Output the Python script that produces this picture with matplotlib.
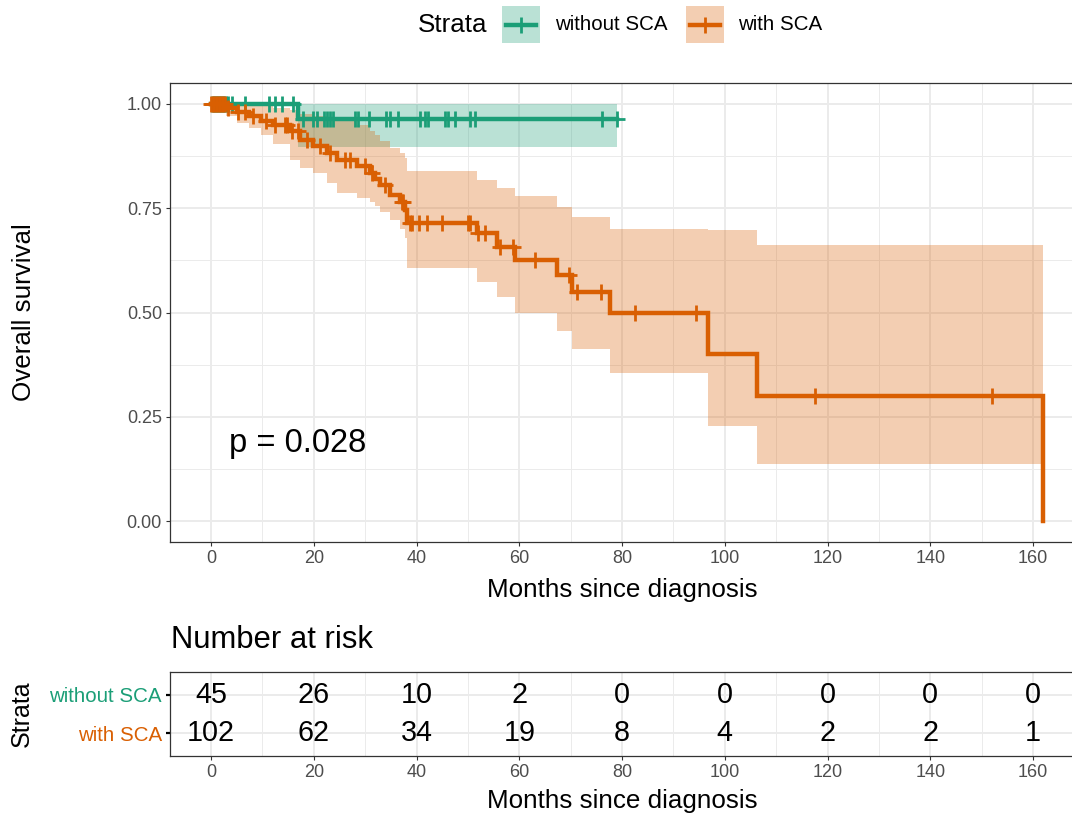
import numpy as np
import matplotlib
matplotlib.use("Agg")
import matplotlib.pyplot as plt
from matplotlib.patches import Rectangle
from matplotlib.lines import Line2D

plt.rcParams['font.family'] = ['Liberation Sans', 'DejaVu Sans']

# ---------------- data ----------------
strata = ["without SCA", "with SCA"]
colors = ["#1B9E77", "#D95F02"]

# stratum 1: without SCA (step function)
wo_time = [0.0, 16.9, 79.0]
wo_surv = [1.0, 0.964, 0.964]
wo_lower = [1.0, 0.897, 0.897]
wo_upper = [1.0, 1.0, 1.0]
wo_censor = [0.2, 0.5, 0.8, 1.1, 1.4, 1.7, 2.0, 2.3, 2.6, 3.0, 3.4, 4.0, 6.6,
             11.3, 12.5, 13.9, 16.0, 18.0, 19.9, 20.6, 21.9, 22.5, 23.2, 23.8,
             28.0, 28.7, 30.8, 34.1, 34.8, 36.4, 40.7, 41.6, 42.3, 45.5, 46.2,
             47.5, 50.4, 51.4, 76.1, 79.0]

# stratum 2: with SCA (step function)
w_time = [0.0, 3.0, 5.0, 7.4, 9.7, 12.0, 15.4, 17.3, 19.9, 22.6, 24.5, 28.4,
          30.9, 31.9, 32.9, 34.8, 36.8, 37.8, 38.2, 51.7, 55.6, 59.2, 67.3,
          70.2, 77.7, 96.8, 106.3, 162.0]
w_surv = [1.0, 0.990, 0.980, 0.970, 0.960, 0.950, 0.935, 0.914, 0.898, 0.882,
          0.865, 0.851, 0.834, 0.820, 0.806, 0.782, 0.766, 0.745, 0.714, 0.690,
          0.658, 0.626, 0.590, 0.550, 0.500, 0.400, 0.300, 0.0]
w_upper = [1.0, 1.0, 1.0, 0.999, 0.996, 0.990, 0.985, 0.975, 0.970, 0.965,
           0.960, 0.950, 0.934, 0.925, 0.910, 0.895, 0.882, 0.870, 0.838,
           0.818, 0.798, 0.778, 0.754, 0.728, 0.700, 0.697, 0.662, 0.662]
w_lower = [1.0, 0.971, 0.955, 0.943, 0.926, 0.904, 0.866, 0.847, 0.835, 0.810,
           0.787, 0.775, 0.766, 0.755, 0.740, 0.722, 0.700, 0.678, 0.606,
           0.574, 0.538, 0.500, 0.456, 0.412, 0.354, 0.229, 0.136, 0.136]
w_censor = [0.0, 0.3, 0.6, 0.9, 1.2, 1.5, 1.8, 2.1, 2.4, 2.7, 3.4, 5.3, 6.6,
            8.2, 10.8, 12.5, 14.4, 14.7, 15.7, 17.0, 18.6, 21.2, 23.2, 26.1,
            27.1, 30.0, 31.3, 33.9, 37.1, 37.4, 38.7, 39.1, 40.4, 42.0, 44.9,
            50.0, 50.4, 51.9, 53.3, 56.3, 58.8, 63.1, 69.6, 71.2, 76.0, 82.5,
            94.5, 117.6, 152.0]

p_value_text = "p = 0.028"

risk_times = [0, 20, 40, 60, 80, 100, 120, 140, 160]
risk_without = [45, 26, 10, 2, 0, 0, 0, 0, 0]
risk_with = [102, 62, 34, 19, 8, 4, 2, 2, 1]

x_ticks = [0, 20, 40, 60, 80, 100, 120, 140, 160]
y_ticks = [0.0, 0.25, 0.50, 0.75, 1.00]

# ---------------- figure ----------------
W, H = 1072, 816
fig = plt.figure(figsize=(W / 100, H / 100), dpi=100)


def fx(px):
    return px / W


def fy(py):
    return 1 - py / H


GRID_MAJ = "#EBEBEB"
TXT_GRAY = "#4D4D4D"
BORDER = "#333333"
LW = 3.2
MS = 12
MEW = 2.0

L, R = 169.9, 1074.1
ax = fig.add_axes([fx(L), fy(542), fx(R) - fx(L), fy(83) - fy(542)])
ax.set_xlim(-8, 168)
ax.set_ylim(-0.05, 1.05)

# grid
ax.set_axisbelow(True)
ax.set_xticks(x_ticks)
ax.set_xticks(np.arange(10, 170, 20), minor=True)
ax.set_yticks(y_ticks)
ax.set_yticks([0.125, 0.375, 0.625, 0.875], minor=True)
ax.grid(which="major", color=GRID_MAJ, lw=1.4)
ax.grid(which="minor", color=GRID_MAJ, lw=0.7)
ax.set_yticklabels([f"{v:.2f}" for v in y_ticks])
ax.tick_params(which="minor", length=0)
ax.tick_params(which="major", length=3.2, width=0.8, color=BORDER,
               labelcolor=TXT_GRAY, labelsize=13, pad=2.5)
for s in ax.spines.values():
    s.set_color(BORDER)
    s.set_linewidth(0.9)


def step_val(times, vals, t):
    i = np.searchsorted(times, t, side="right") - 1
    return np.asarray(vals)[i]


series = [
    (wo_time, wo_surv, wo_lower, wo_upper, wo_censor, colors[0]),
    (w_time, w_surv, w_lower, w_upper, w_censor, colors[1]),
]
for t, s, lo, up, cen, c in series:
    ax.fill_between(t, lo, up, step="post", color=c, alpha=0.3, lw=0)
for t, s, lo, up, cen, c in series:
    ax.step(t, s, where="post", color=c, lw=LW, solid_joinstyle="miter")
    cy = step_val(t, s, np.asarray(cen))
    ax.plot(cen, cy, ls="none", marker="+", ms=MS, mew=MEW, color=c)

ax.text(3.5, 0.165, p_value_text, fontsize=23.5, ha="left", va="baseline",
        color="black")

fig.text(fx(622), fy(590), "Months since diagnosis", fontsize=18.7,
         ha="center", va="center")
fig.text(fx(24), fy(312), "Overall survival", fontsize=18.7, rotation=90,
         ha="center", va="center")

# ---------------- legend ----------------
fig.text(fx(418), fy(25), "Strata", fontsize=18.7, ha="left", va="center")
legend_boxes = [(502, 555), (686, 738)]
for (bx, tx), lab, c in zip(legend_boxes, strata, colors):
    fig.add_artist(Rectangle((fx(bx), fy(43)), fx(38), fy(6) - fy(43),
                             transform=fig.transFigure, facecolor=c,
                             alpha=0.3, lw=0))
    fig.add_artist(Line2D([fx(bx + 4), fx(bx + 34)], [fy(24.5), fy(24.5)],
                          transform=fig.transFigure, color=c, lw=LW))
    fig.add_artist(Line2D([fx(bx + 19)], [fy(24.5)], transform=fig.transFigure,
                          color=c, marker="+", ms=MS, mew=MEW, ls="none"))
    fig.text(fx(tx), fy(25), lab, fontsize=14.8, ha="left", va="center")

# ---------------- risk table ----------------
fig.text(fx(171), fy(640), "Number at risk", fontsize=22.3, ha="left",
         va="center")
rax = fig.add_axes([fx(L), fy(756), fx(R) - fx(L), fy(672) - fy(756)])
rax.set_xlim(-8, 168)
rax.set_ylim(0.4, 2.6)
rax.set_axisbelow(True)
rax.set_xticks(x_ticks)
rax.set_xticks(np.arange(10, 170, 20), minor=True)
rax.set_yticks([1, 2])
rax.set_yticklabels([strata[1], strata[0]])
rax.grid(which="major", color=GRID_MAJ, lw=1.4)
rax.grid(which="minor", axis="x", color=GRID_MAJ, lw=0.7)
rax.tick_params(which="minor", length=0)
rax.tick_params(which="major", length=3.2, width=0.8, color=BORDER,
                labelcolor=TXT_GRAY, labelsize=13, pad=2.5)
rax.tick_params(axis="y", labelsize=14.8, width=1.6, color="black")
for lbl, c in zip(rax.get_yticklabels(), [colors[1], colors[0]]):
    lbl.set_color(c)
for s in rax.spines.values():
    s.set_color(BORDER)
    s.set_linewidth(0.9)
for tt, n in zip(risk_times, risk_without):
    rax.text(tt, 2, str(n), fontsize=20.7, ha="center", va="center")
for tt, n in zip(risk_times, risk_with):
    rax.text(tt, 1, str(n), fontsize=20.7, ha="center", va="center")

fig.text(fx(622), fy(801), "Months since diagnosis", fontsize=18.7,
         ha="center", va="center")
fig.text(fx(22), fy(714), "Strata", fontsize=18, rotation=90,
         ha="center", va="center")

fig.savefig("out.png", dpi=100)
